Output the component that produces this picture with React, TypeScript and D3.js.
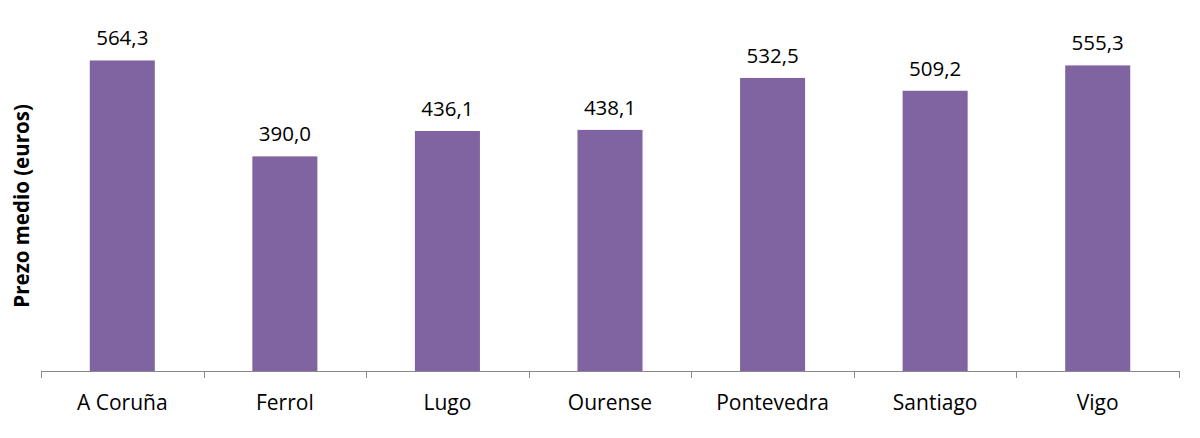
import React from "react";
import * as d3 from "d3";

const categories = ["A Coruña", "Ferrol", "Lugo", "Ourense", "Pontevedra", "Santiago", "Vigo"];
const values = [564.3, 390.0, 436.1, 438.1, 532.5, 509.2, 555.3];
const yTitle = "Prezo medio (euros)";

const W = 1200;
const H = 438;
const left = 41;
const right = 1179;
const baseY = 371;
const topY = 40.8;

export default function App() {
  const band = d3.scaleBand<string>().domain(categories).range([left, right]).padding(0);
  const barX = d3.scaleBand<string>().domain(categories).range([left, right]).paddingInner(0.6).paddingOuter(0.3);
  const y = d3.scaleLinear().domain([0, 600]).range([baseY, topY]);
  const fmt = (v: number) => v.toFixed(1).replace(".", ",");
  const tickXs = [...categories.map((c) => band(c) as number), right];
  return (
    <svg width={W} height={H} style={{ position: "absolute", left: 0, top: 0, background: "#fff" }}>
      {categories.map((c, i) => (
        <rect key={c} x={barX(c)} y={y(values[i])} width={barX.bandwidth()} height={baseY - y(values[i])} fill="#8064A2" />
      ))}
      <line x1={left} x2={right} y1={baseY + 0.5} y2={baseY + 0.5} stroke="#898989" strokeWidth={1} />
      {tickXs.map((x, i) => (
        <line key={i} x1={Math.round(x) + 0.5} x2={Math.round(x) + 0.5} y1={baseY} y2={baseY + 7} stroke="#898989" strokeWidth={1} />
      ))}
      {categories.map((c, i) => (
        <text key={c} x={(barX(c) as number) + barX.bandwidth() / 2} y={y(values[i]) - 15} textAnchor="middle" fontFamily="'Open Sans', sans-serif" fontSize={20.5} fill="#000">
          {fmt(values[i])}
        </text>
      ))}
      {categories.map((c) => (
        <text key={c} x={(band(c) as number) + band.bandwidth() / 2} y={410} textAnchor="middle" fontFamily="'Open Sans', sans-serif" fontSize={21} fill="#000">
          {c}
        </text>
      ))}
      <text transform={`translate(29,${(baseY + topY) / 2}) rotate(-90)`} textAnchor="middle" fontFamily="'Open Sans', sans-serif" fontWeight="bold" fontSize={20.5} fill="#000">
        {yTitle}
      </text>
    </svg>
  );
}
